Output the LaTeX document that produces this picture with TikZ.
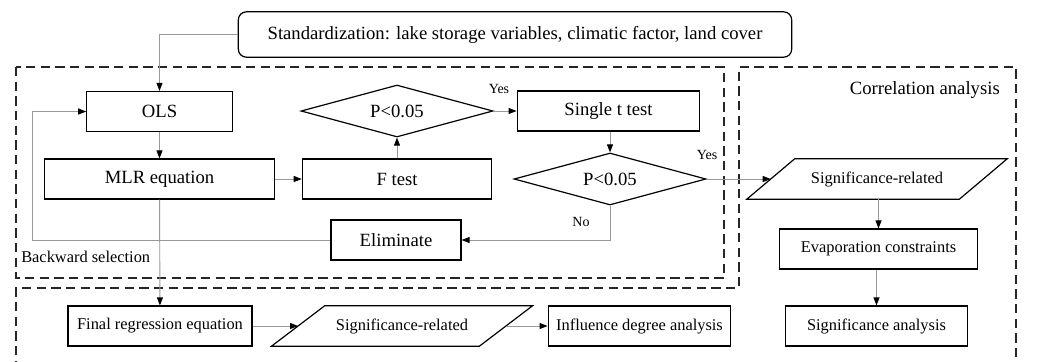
\documentclass[tikz,border=0pt]{standalone}
\usepackage{fontspec}
\setmainfont{Liberation Serif}
\usetikzlibrary{arrows.meta,shapes.geometric}
% outline of a slanted data box around a plain node: #1 node, #2 half slant
\newcommand\slantframe[2]{%
  \draw[black,line width=0.9pt] ([xshift=#2]#1.north west) -- ([xshift=#2]#1.north east)
    -- ([xshift=-#2]#1.south east) -- ([xshift=-#2]#1.south west) -- cycle;}
\begin{document}
\begin{tikzpicture}[x=0.75pt,y=-0.75pt,
  box/.style={draw=black,line width=0.9pt,minimum height=30pt,inner sep=0pt},
  dia/.style={diamond,draw=black,line width=0.9pt,aspect=3.7,minimum width=144pt,minimum height=39pt,inner sep=0pt},
  para/.style={minimum height=30pt,inner sep=0pt},
  big/.style={font=\fontsize{14}{16}\selectfont},
  small/.style={font=\fontsize{12.3}{14}\selectfont},
  tiny/.style={font=\fontsize{10.5}{12}\selectfont},
  conn/.style={draw=black!40,line width=0.7pt},
  arr/.style={conn,-{Triangle[length=6pt,width=4.5pt,color=black]}},
  frame/.style={draw=black!85,line width=1pt,dash pattern=on 7pt off 4pt}]
\useasboundingbox (0,0) rectangle (1044,361);

% dashed regions
\draw[frame] (16,67) rectangle (724,278);
\draw[frame] (16,370) -- (16,288) -- (739,288) -- (739,67) -- (1016,67) -- (1016,370);

% nodes
\node[box,big,rounded corners=6pt,minimum width=415pt,minimum height=34pt] (std) at (515,34.5)
  {Standardization: lake storage variables, climatic factor, land cover};
\node[box,big,minimum width=109pt] (ols) at (159.5,111.5) {OLS};
\node[box,big,minimum width=172pt] (mlr) at (159.5,179) {MLR equation};
\node[box,big,minimum width=142pt] (ftest) at (397,179) {F test};
\node[dia,big] (p1) at (397,111) {P<0.05};
\node[box,big,minimum width=137pt] (ttest) at (608.5,111) {Single t test};
\node[dia,big] (p2) at (610,179) {P<0.05};
\node[box,big,minimum width=97.5pt] (elim) at (396,240) {Eliminate};
\node[para,small,minimum width=159pt] (sigr) at (877,179) {Significance-related};
\slantframe{sigr}{18pt}
\node[box,small,minimum width=148pt] (evap) at (878.5,249) {Evaporation constraints};
\node[box,small,minimum width=137pt] (siga) at (876.5,326) {Significance analysis};
\node[box,small,minimum width=138pt] (final) at (160,326) {Final regression equation};
\node[para,small,minimum width=155.5pt] (sigb) at (402,326) {Significance-related};
\slantframe{sigb}{20pt}
\node[box,small,minimum width=137pt] (infl) at (639.5,326) {Influence degree analysis};

% labels
\node[tiny] (yes1) at (499,89) {Yes};
\node[tiny] (yes2) at (707,155) {Yes};
\node[tiny] (no) at (581,222) {No};
\node[small,anchor=west,inner sep=0pt] (back) at (21,257) {Backward selection};
\node[big,anchor=east,inner sep=0pt] (corr) at (1000,90) {Correlation analysis};

% connectors
\coordinate (c1) at (159.5,34.5);
\draw[arr] (std.west) -- (c1) -- (ols.north);
\draw[arr] (ols) -- (mlr);
\draw[arr] (mlr) -- (ftest);
\draw[arr] (ftest) -- (p1);
\draw[arr] (p1) -- (ttest);
\draw[arr] (ttest.south -| p2.north) -- (p2);
\draw[arr] (p2) -- (sigr);
\draw[arr] (p2.south) |- (elim.east);
\coordinate (c2) at (32,240);
\coordinate (c3) at (32,111.5);
\draw[arr] (elim.west) -- (c2) -- (c3) -- (ols.west);
\draw[arr] (mlr) -- (final);
\draw[arr] (final) -- (sigb);
\draw[arr] (sigb) -- (infl);
\draw[arr] (sigr.south -| evap.north) -- (evap);
\draw[arr] (evap.south -| siga.north) -- (siga);
\end{tikzpicture}
\end{document}
